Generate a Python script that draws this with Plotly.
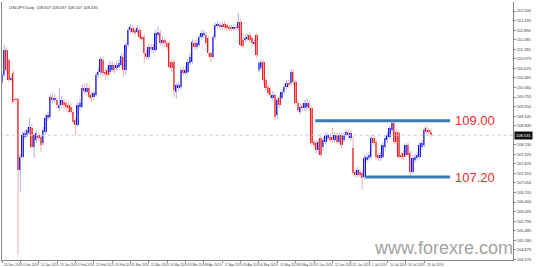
import plotly.graph_objects as go

# ---------------- data (USDJPY daily) ----------------
opens = [110.24,110.46,111.26,110.94,110.30,110.52,109.69,109.69,107.43,107.84,
         108.48,108.54,108.61,108.77,108.16,108.38,108.54,108.48,108.29,108.64,
         109.09,109.12,109.76,109.66,109.66,109.41,109.50,109.60,109.57,109.50,
         109.44,109.28,109.02,108.86,109.44,109.44,110.04,109.92,110.04,109.82,
         109.76,109.82,110.46,110.56,110.94,110.56,110.62,110.56,110.62,110.78,
         110.68,110.72,110.78,111.04,110.62,111.42,111.90,111.96,111.90,
         111.83,111.90,111.67,111.67,111.16,111.04,111.35,111.26,111.26,111.74,
         111.80,111.48,111.58,111.48,111.48,110.88,110.88,109.92,110.04,110.08,
         110.62,110.52,110.56,110.84,110.88,111.48,111.35,111.42,111.67,111.74,
         111.74,111.64,111.16,111.04,111.67,112.03,112.06,111.99,112.09,112.06,
         111.97,111.96,111.93,111.99,111.96,112.15,111.58,111.58,111.64,111.74,
         111.64,111.48,111.74,110.62,110.68,110.88,110.30,110.08,110.04,109.73,
         109.82,109.18,
         109.73,109.73,109.92,110.08,110.20,110.20,110.56,110.24,109.57,109.28,
         109.44,109.41,109.44,109.57,109.41,108.32,108.29,108.06,108.45,108.16,
         108.32,108.45,108.48,108.48,108.38,108.54,108.32,108.54,108.38,108.54,
         108.64,108.45,108.13,107.36,107.27,107.36,107.33,107.20,107.74,107.81,
         107.84,108.45,108.32,107.90,107.81,107.84,108.16,108.38,108.48,108.70,
         108.93,108.64,108.61,107.90,107.97,107.90,108.22,107.97,107.36,107.74,
         107.81,107.84,108.16,108.22,108.77,108.70,108.64]
closes = [110.46,111.26,110.62,110.30,110.36,109.60,109.66,107.43,107.84,108.54,
          108.61,108.70,108.80,108.16,108.54,108.61,108.45,108.22,108.70,109.09,
          109.18,109.76,109.66,109.73,109.50,109.50,109.66,109.50,109.44,109.41,
          109.28,108.96,108.86,109.50,109.57,110.04,109.95,110.04,109.76,109.73,
          109.89,110.46,110.56,110.97,110.52,110.52,110.46,110.78,110.78,110.62,
          110.78,110.84,111.07,110.62,111.42,111.90,111.99,111.83,111.80,
          111.96,111.67,111.64,111.16,111.04,111.35,111.32,111.35,111.80,111.83,
          111.48,111.58,111.48,111.35,110.72,110.68,109.98,110.14,110.14,110.62,
          110.52,110.62,110.88,111.04,111.51,111.35,111.48,111.67,111.80,111.77,
          111.48,111.16,111.04,111.67,112.06,112.09,111.99,112.06,111.99,111.96,
          111.95,111.93,111.99,111.96,112.15,111.42,111.39,111.64,111.67,111.58,
          111.48,111.51,111.10,110.84,110.88,110.30,110.04,109.89,109.82,109.82,
          109.12,109.66,
          109.50,109.92,110.08,110.20,110.14,110.56,110.24,109.57,109.34,109.44,
          109.41,109.57,109.57,109.41,108.29,108.22,108.06,108.32,107.90,108.38,
          108.54,108.54,108.38,108.38,108.54,108.32,108.54,108.22,108.54,108.64,
          108.54,108.61,107.33,107.27,107.43,107.27,107.17,107.81,107.84,107.90,
          108.45,108.29,107.84,107.81,107.90,108.22,108.45,108.54,108.77,108.93,
          108.32,108.32,107.84,107.84,107.84,108.22,107.90,107.36,107.81,107.84,
          107.90,108.22,108.29,108.70,108.64,108.64,108.54]
highs = [110.55,111.42,111.35,111.00,110.45,110.60,109.75,109.75,107.95,108.65,
         108.70,108.80,109.09,108.90,108.60,108.70,108.65,108.55,108.80,109.20,
         109.30,109.85,109.90,109.85,109.75,110.04,109.80,109.70,109.65,109.60,
         109.55,109.35,109.10,109.60,109.70,110.15,110.20,110.20,110.15,109.90,
         109.95,110.55,110.70,111.05,111.05,110.65,110.75,110.90,110.90,110.85,
         110.90,110.95,111.15,111.15,111.50,112.00,112.10,112.05,111.98,
         112.05,111.98,111.75,111.75,111.25,111.45,111.45,111.45,111.90,111.99,
         111.90,111.70,111.65,111.55,111.55,110.95,110.95,110.20,110.25,110.70,
         110.72,110.75,110.95,111.15,111.60,111.58,111.60,111.75,111.90,111.88,
         111.82,111.70,111.22,111.75,112.12,112.18,112.15,112.15,112.18,112.12,
         112.05,112.05,112.08,112.06,112.44,112.25,111.80,111.75,111.78,111.85,
         111.70,111.60,111.82,110.90,110.95,110.95,110.38,110.15,110.10,109.95,
         109.90,109.75,
         109.82,110.00,110.15,110.30,110.30,110.65,110.65,110.30,109.65,109.55,
         109.55,109.68,109.70,109.65,109.48,108.40,108.38,108.42,108.55,108.48,
         108.62,108.62,108.58,108.77,108.62,108.62,108.62,108.62,108.62,108.72,
         108.72,108.70,108.50,107.45,107.52,107.45,107.42,107.90,107.95,108.00,
         108.55,108.55,108.40,107.98,108.00,108.30,108.52,108.62,108.85,108.99,
         108.99,108.72,108.68,107.98,108.05,108.30,108.30,108.05,107.90,107.95,
         108.00,108.30,108.38,108.80,108.86,108.78,108.72]
lows = [110.15,110.40,110.55,110.22,110.25,109.55,109.55,104.71,106.72,107.80,
        108.40,108.45,108.55,108.10,107.81,108.30,108.35,108.00,108.20,108.55,
        109.00,109.05,109.55,109.55,109.40,109.30,109.40,109.35,109.30,109.25,
        109.20,108.90,108.54,108.80,109.35,109.40,109.85,109.80,109.70,109.60,
        109.65,109.75,110.35,110.45,110.40,110.30,110.35,110.45,110.55,110.50,
        110.60,110.65,110.70,110.40,110.46,111.35,111.80,111.75,111.70,
        111.75,111.60,111.55,110.84,110.95,110.95,111.20,111.15,111.20,111.65,
        111.40,111.40,111.35,111.25,110.65,110.55,109.73,109.70,109.95,110.00,
        110.45,110.45,110.50,110.78,110.82,111.25,111.28,111.35,111.60,111.65,
        111.40,111.05,110.88,110.98,111.60,111.95,111.90,111.90,111.88,111.85,
        111.85,111.85,111.85,111.88,111.88,111.35,111.30,111.50,111.55,111.50,
        111.40,111.40,111.00,110.55,110.60,110.20,109.95,109.80,109.70,109.65,
        109.00,109.05,
        109.40,109.65,109.85,110.00,110.05,110.12,110.15,109.50,109.25,109.20,
        109.30,109.30,109.35,109.30,108.20,108.10,107.95,107.92,107.82,108.05,
        108.25,108.38,108.30,108.30,108.30,108.25,108.25,108.12,108.30,108.48,
        108.45,108.38,107.25,107.18,107.20,107.18,106.79,107.12,107.65,107.72,
        107.78,108.20,107.75,107.70,107.72,107.78,108.08,108.30,108.40,108.62,
        108.25,108.25,107.78,107.75,107.75,107.82,107.82,107.27,107.30,107.65,
        107.72,107.78,108.08,108.15,108.58,108.58,108.48]

date_labels = ["24 Dec 2018", "4 Jan 2019", "14 Jan 2019", "23 Jan 2019", "1 Feb 2019",
               "11 Feb 2019", "20 Feb 2019", "1 Mar 2019", "11 Mar 2019", "20 Mar 2019",
               "29 Mar 2019", "8 Apr 2019", "17 Apr 2019", "26 Apr 2019", "6 May 2019",
               "15 May 2019", "24 May 2019", "3 Jun 2019", "12 Jun 2019", "21 Jun 2019",
               "1 Jul 2019", "10 Jul 2019", "19 Jul 2019", "29 Jul 2019"]
label_every = 8

price_ticks = [104.570, 104.875, 105.180, 105.485, 105.790, 106.095, 106.400, 106.705,
               107.010, 107.315, 107.620, 107.925, 108.230, 108.840, 109.145, 109.450,
               109.755, 110.060, 110.365, 110.670, 110.975, 111.280, 111.585, 111.890,
               112.195, 112.500]

current_price = 108.535
resistance = 109.00
support = 107.20
resistance_start = 136.5
support_start = 158.3
level_end = 195.3
header = "USDJPY,Daily  108.637 108.697 108.507 108.535"
watermark = "www.forexre.com"

# ---------------- build figure ----------------
n = len(opens)
idx = list(range(n))
up = [c >= o for o, c in zip(opens, closes)]
body_base = [min(o, c) for o, c in zip(opens, closes)]
body_h = [max(abs(c - o), 0.03) for o, c in zip(opens, closes)]
body_col = ["#1414e6" if u else "#ee1c1c" for u in up]

fig = go.Figure()

# wicks
for flag, col in ((True, "#b0b0f3"), (False, "#f3b0b0")):
    wx, wy = [], []
    for i in idx:
        if up[i] == flag:
            wx += [i, i, None]
            wy += [lows[i], highs[i], None]
    fig.add_trace(go.Scatter(x=wx, y=wy, mode="lines", line=dict(color=col, width=1),
                             hoverinfo="skip", showlegend=False))

# bodies
fig.add_trace(go.Bar(x=idx, y=body_h, base=body_base, width=0.85,
                     marker=dict(color=body_col, line=dict(width=0)),
                     showlegend=False))

# current price dotted line
fig.add_trace(go.Scatter(x=[-1, 230], y=[current_price, current_price], mode="lines",
                         line=dict(color="#d6caca", width=1, dash="dot"),
                         hoverinfo="skip", showlegend=False))

# support / resistance
for start, lvl in ((resistance_start, resistance), (support_start, support)):
    fig.add_trace(go.Scatter(x=[start, level_end], y=[lvl, lvl], mode="lines",
                             line=dict(color="#3b7bb5", width=3),
                             hoverinfo="skip", showlegend=False))
    fig.add_annotation(x=level_end + 1.2, y=lvl, text=f"{lvl:.2f}", showarrow=False,
                       xanchor="left", yanchor="middle",
                       font=dict(family="Liberation Sans, Arial", size=13, color="#ee2a2a"))

# date labels (left aligned at their bar, MT4 style)
for k, lab in enumerate(date_labels):
    fig.add_annotation(x=k * label_every + 0.2, y=0, yref="paper", text=lab, showarrow=False,
                       xanchor="left", yanchor="top", yshift=-1,
                       font=dict(family="Liberation Sans, Arial", size=3.2, color="#444"))

# current price tag
fig.add_annotation(x=1, xref="paper", y=current_price, text=f"{current_price:.3f}",
                   showarrow=False, xanchor="left", yanchor="middle", xshift=1,
                   bgcolor="#111", font=dict(family="Liberation Sans, Arial", size=4, color="#fff"),
                   borderpad=1)

# header
fig.add_annotation(x=0, y=1, xref="paper", yref="paper", text=header, showarrow=False,
                   xanchor="left", yanchor="top", xshift=5, yshift=-1,
                   font=dict(family="Liberation Sans, Arial", size=4, color="#333"))

# watermark
fig.add_annotation(x=1, y=0, xref="paper", yref="paper", text=watermark, showarrow=False,
                   xanchor="right", yanchor="bottom", xshift=2, yshift=0,
                   font=dict(family="Liberation Sans, Arial", size=18, color="#a3a3a3"))

fig.update_layout(
    width=554, height=267,
    margin=dict(l=2, r=41, t=2, b=7),
    paper_bgcolor="white", plot_bgcolor="white",
    bargap=0, showlegend=False,
    xaxis=dict(range=[0.0, 222.7], showgrid=False, zeroline=False, showticklabels=False,
               showline=True, linecolor="#888", linewidth=1, mirror=False,
               tickvals=[k * label_every for k in range(len(date_labels))],
               ticks="outside", ticklen=2, tickcolor="#888", fixedrange=True),
    yaxis=dict(range=[104.55, 112.79], side="right", showgrid=False, zeroline=False,
               tickvals=price_ticks, ticktext=[f"{v:.3f}" for v in price_ticks],
               ticks="outside", ticklen=2, tickcolor="#888",
               tickfont=dict(family="Liberation Sans, Arial", size=4, color="#333"),
               showline=True, linecolor="#888", linewidth=1, mirror=True, fixedrange=True),
)

fig.write_html("out.html")
